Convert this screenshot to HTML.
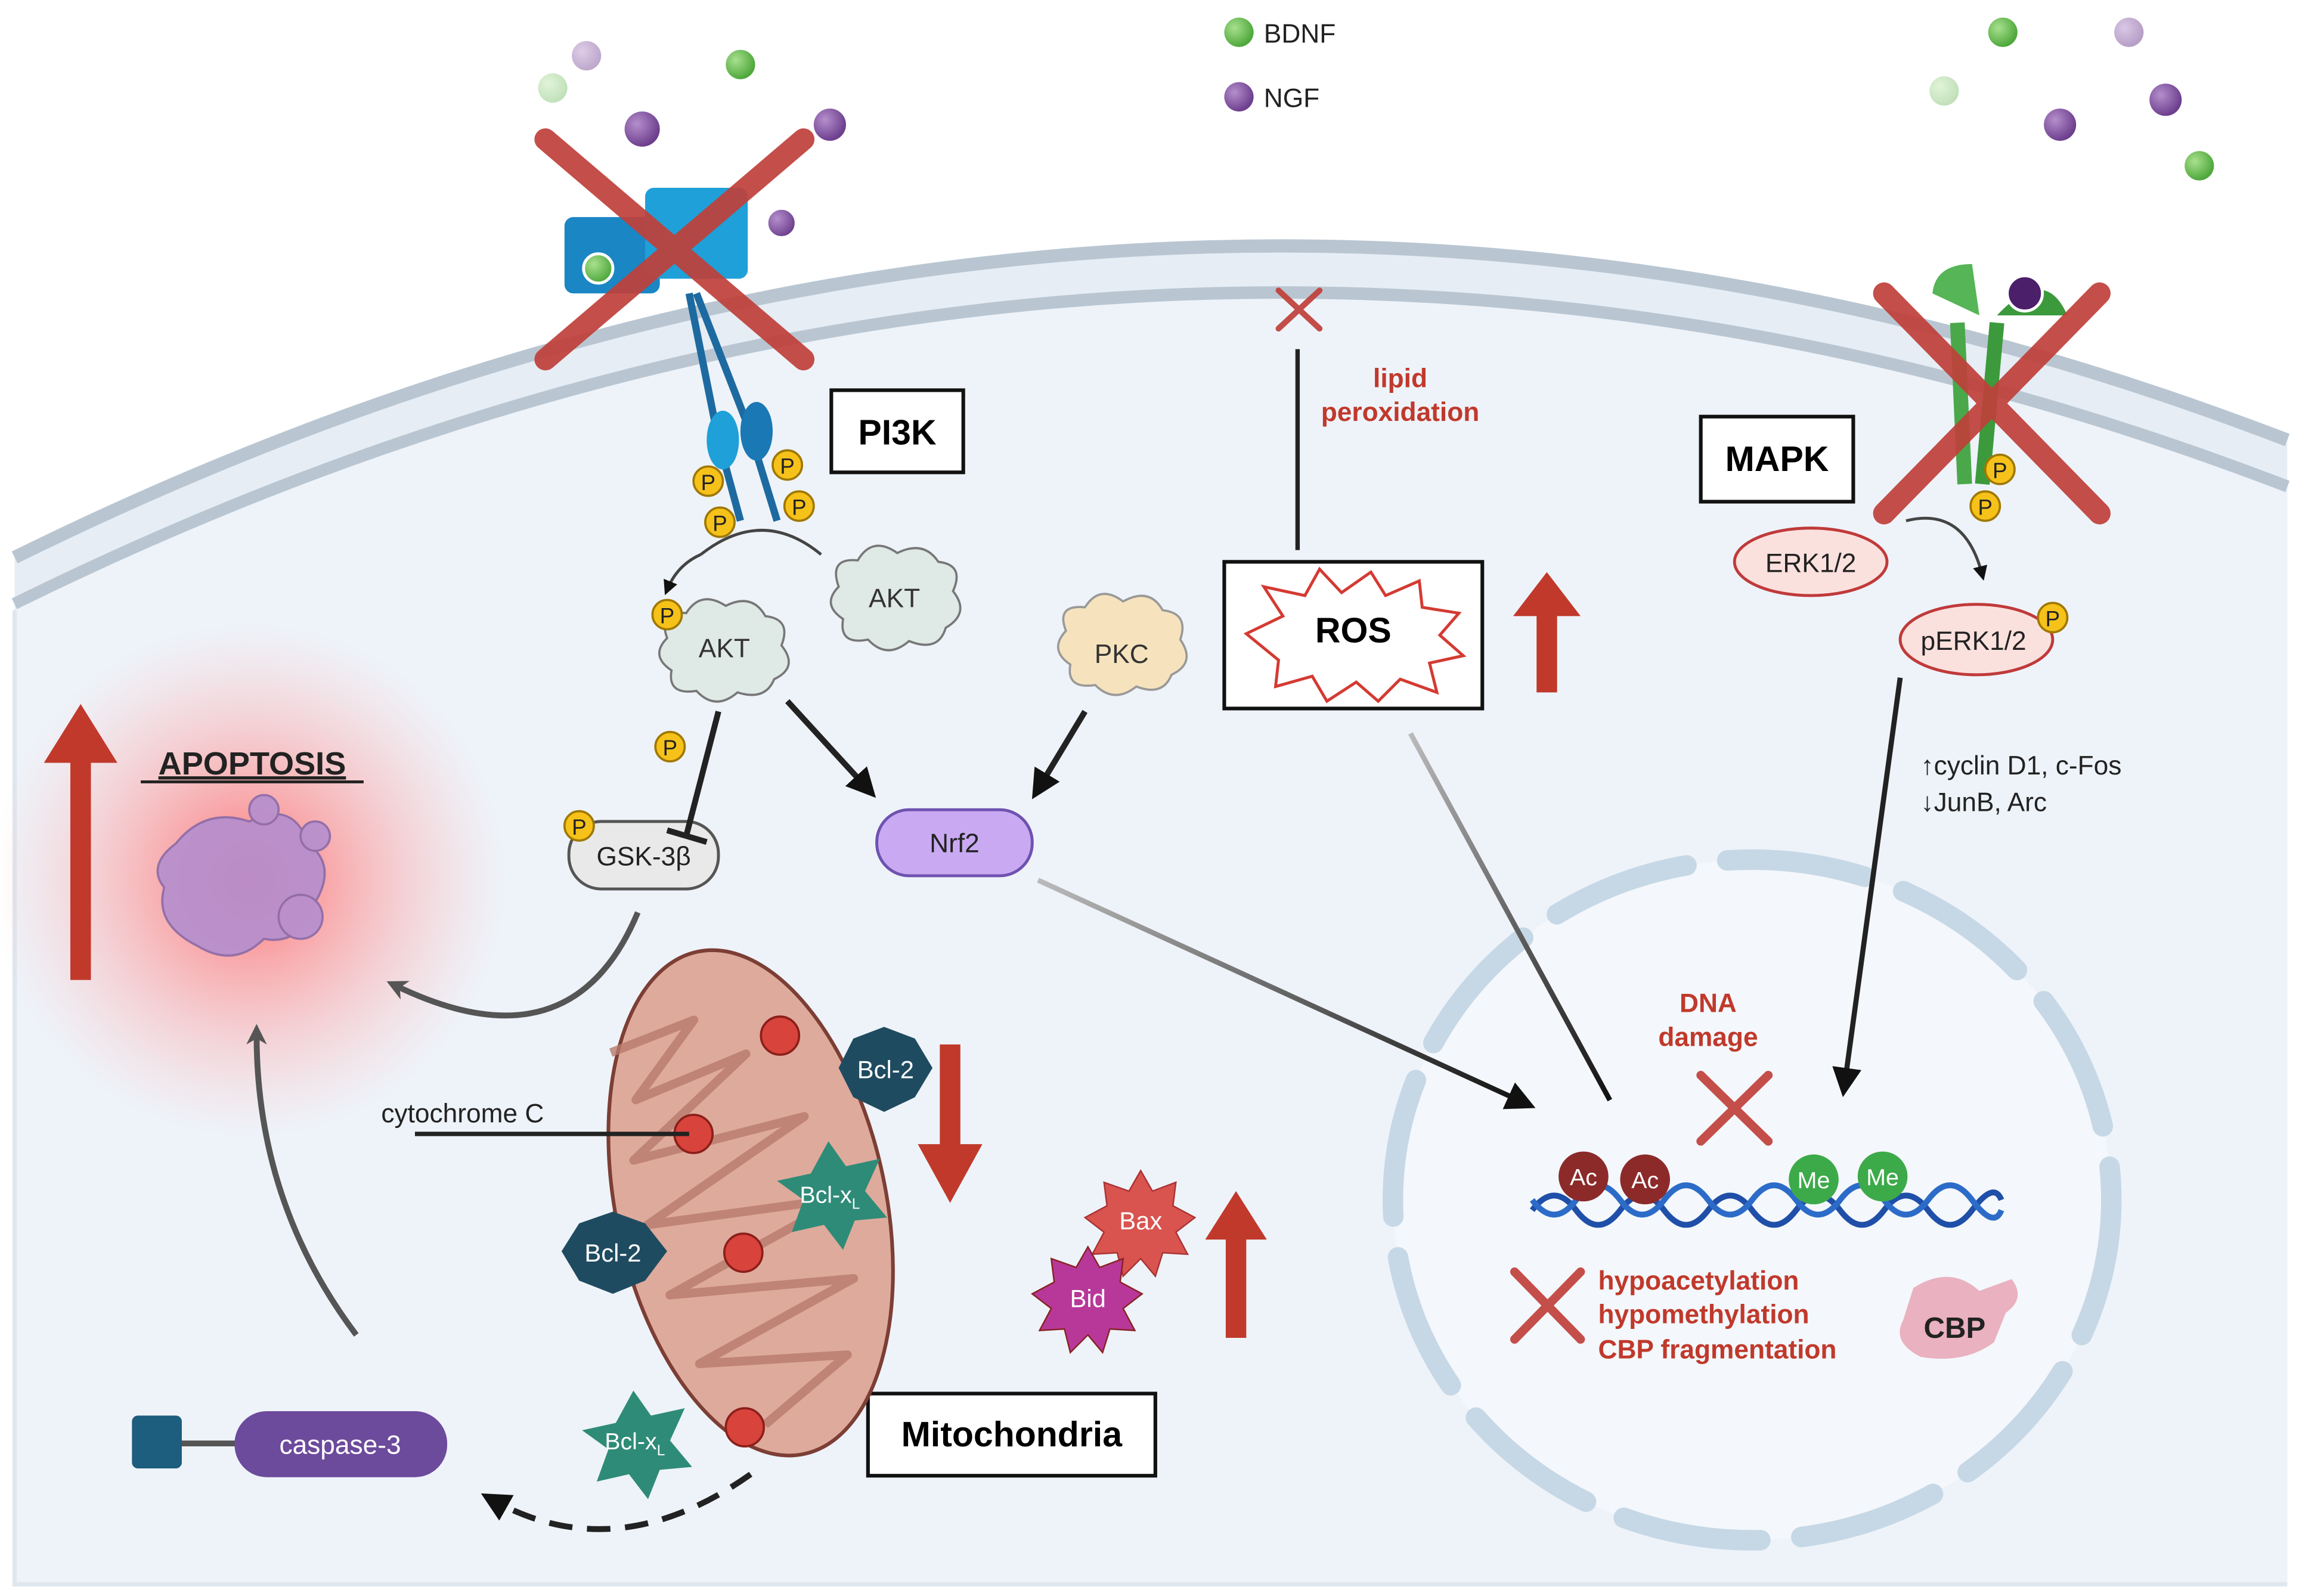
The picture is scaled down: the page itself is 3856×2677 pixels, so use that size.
<!DOCTYPE html>
<html><head><meta charset="utf-8"><style>
html,body{margin:0;padding:0;background:#fff;}
svg{display:block;}
text{font-family:"Liberation Sans",sans-serif;}
</style></head><body>
<svg width="3856" height="2677" viewBox="0 0 1568 1088" preserveAspectRatio="none" xmlns="http://www.w3.org/2000/svg">
<defs>
<radialGradient id="glow" cx="50%" cy="50%" r="50%">
<stop offset="0" stop-color="#ff5a5a" stop-opacity="0.85"/>
<stop offset="0.5" stop-color="#ff8a8a" stop-opacity="0.45"/>
<stop offset="1" stop-color="#ffb0b0" stop-opacity="0"/>
</radialGradient>
<radialGradient id="gG" cx="35%" cy="35%" r="65%"><stop offset="0" stop-color="#a8e08e"/><stop offset="1" stop-color="#4fa83c"/></radialGradient>
<radialGradient id="gP" cx="35%" cy="35%" r="65%"><stop offset="0" stop-color="#b58fcc"/><stop offset="1" stop-color="#6d3f8e"/></radialGradient>
<linearGradient id="lg1" x1="0" y1="0" x2="1" y2="1"><stop offset="0" stop-color="#bbb"/><stop offset="1" stop-color="#111"/></linearGradient>
<marker id="ah" markerWidth="10" markerHeight="10" refX="6" refY="5" orient="auto" markerUnits="userSpaceOnUse"><path d="M0,0 L10,5 L0,10 Z" fill="#111"/></marker>
<marker id="ahg" markerWidth="14" markerHeight="14" refX="7" refY="7" orient="auto" markerUnits="userSpaceOnUse"><path d="M0,0 L14,7 L0,14 L4,7 Z" fill="#555"/></marker>
<marker id="ahb" markerWidth="20" markerHeight="20" refX="12" refY="10" orient="auto" markerUnits="userSpaceOnUse"><path d="M0,0 L20,10 L0,20 Z" fill="#111"/></marker>
</defs>
<rect width="1568" height="1088" fill="#fff"/>
<!-- cell -->
<path d="M10,380 Q780,0 1560,300 L1560,1080 L10,1080 Z" fill="#e6edf4"/>
<path d="M10,380 Q780,0 1560,300" fill="none" stroke="#b9c6d2" stroke-width="9"/>
<path d="M10,412 Q780,32 1560,332" fill="none" stroke="#b9c6d2" stroke-width="9"/>
<path d="M10,416 Q780,36 1560,336 L1560,1080 L10,1080 Z" fill="#eef3f9"/>
<path d="M10,416 L10,1080 L1560,1080" fill="none" stroke="#dfe6ee" stroke-width="3"/>
<!-- nucleus -->
<ellipse cx="1195" cy="818" rx="245" ry="232" fill="#f4f7fb"/>
<ellipse cx="1195" cy="818" rx="245" ry="232" fill="none" stroke="#c6d8e6" stroke-width="14" stroke-linecap="round" stroke-dasharray="95 28"/>
<!-- legend -->
<circle cx="845" cy="22" r="10" fill="url(#gG)"/><text x="862" y="29" font-size="18" fill="#222">BDNF</text>
<circle cx="845" cy="66" r="10" fill="url(#gP)"/><text x="862" y="73" font-size="18" fill="#222">NGF</text>
<!-- ligands -->
<g>
<circle cx="400" cy="38" r="10" fill="url(#gP)" opacity="0.45"/>
<circle cx="377" cy="60" r="10" fill="url(#gG)" opacity="0.35"/>
<circle cx="505" cy="44" r="10" fill="url(#gG)"/>
<circle cx="438" cy="88" r="12" fill="url(#gP)"/>
<circle cx="566" cy="85" r="11" fill="url(#gP)"/>
<circle cx="1366" cy="22" r="10" fill="url(#gG)"/>
<circle cx="1452" cy="22" r="10" fill="url(#gP)" opacity="0.5"/>
<circle cx="1326" cy="62" r="10" fill="url(#gG)" opacity="0.35"/>
<circle cx="1405" cy="85" r="11" fill="url(#gP)"/>
<circle cx="1477" cy="68" r="11" fill="url(#gP)"/>
<circle cx="1500" cy="113" r="10" fill="url(#gG)"/>
</g>
<!-- left receptor -->
<g>
<path d="M470,200 L490,300 L505,355" stroke="#1d6aa0" stroke-width="5" fill="none"/>
<path d="M475,200 L510,290 L530,355" stroke="#1d6aa0" stroke-width="5" fill="none"/>
<rect x="385" y="148" width="65" height="52" rx="6" fill="#1a86c4"/>
<rect x="440" y="128" width="70" height="62" rx="6" fill="#1fa0d8"/>
<ellipse cx="493" cy="300" rx="11" ry="20" fill="#1fa0d8"/>
<ellipse cx="516" cy="294" rx="11" ry="20" fill="#1a78b5"/>
<circle cx="533" cy="152" r="10" fill="url(#gP)" stroke="#fff" stroke-width="2"/>
<circle cx="408" cy="183" r="10" fill="url(#gG)" stroke="#fff" stroke-width="2"/>
</g>
<!-- right receptor -->
<g>
<path d="M1335,220 L1340,330" stroke="#4aa84a" stroke-width="10" fill="none"/>
<path d="M1362,220 L1352,330" stroke="#3c9a3c" stroke-width="10" fill="none"/>
<path d="M1318,200 Q1320,180 1345,180 L1350,215 Z" fill="#56b556"/>
<path d="M1362,215 Q1395,180 1410,215 Z" fill="#3c9a3c"/>
<circle cx="1381" cy="200" r="12" fill="#4b1f6a" stroke="#fff" stroke-width="2"/>
</g>
<!-- red X's -->
<g stroke="#c0403a" stroke-linecap="round" opacity="0.92">
<path d="M372,95 L548,245 M548,95 L372,245" stroke-width="15"/>
<path d="M1285,200 L1432,350 M1432,200 L1285,350" stroke-width="15"/>
<path d="M872,198 L900,224 M900,198 L872,224" stroke-width="4"/>
<path d="M1160,733 L1206,778 M1206,733 L1160,778" stroke-width="6"/>
<path d="M1033,867 L1078,913 M1078,867 L1033,913" stroke-width="6"/>
</g>
<!-- boxes -->
<rect x="567" y="266" width="90" height="56" fill="#fff" stroke="#111" stroke-width="2.5"/>
<text x="612" y="303" font-size="24" font-weight="bold" text-anchor="middle">PI3K</text>
<rect x="1160" y="284" width="104" height="58" fill="#fff" stroke="#111" stroke-width="2.5"/>
<text x="1212" y="321" font-size="24" font-weight="bold" text-anchor="middle">MAPK</text>
<rect x="835" y="383" width="176" height="100" fill="#fff" stroke="#111" stroke-width="2.5"/>
<path d="M850,432 L875,420 L862,400 L890,406 L900,388 L915,404 L935,390 L945,406 L968,396 L970,414 L995,418 L982,433 L998,447 L975,452 L980,472 L955,463 L940,478 L925,465 L905,478 L895,461 L870,468 L872,450 Z" fill="#fff" stroke="#d43a32" stroke-width="2"/>
<text x="923" y="438" font-size="24" font-weight="bold" text-anchor="middle">ROS</text>
<rect x="592" y="950" width="196" height="56" fill="#fff" stroke="#111" stroke-width="2.5"/>
<text x="690" y="986" font-size="24" font-weight="bold" text-anchor="middle">Mitochondria</text>
<!-- lipid peroxidation -->
<line x1="885" y1="238" x2="885" y2="375" stroke="#222" stroke-width="3"/>
<text x="955" y="264" font-size="18" font-weight="bold" fill="#c0392b" text-anchor="middle">lipid</text>
<text x="955" y="287" font-size="18" font-weight="bold" fill="#c0392b" text-anchor="middle">peroxidation</text>
<!-- red arrows -->
<g fill="#c0392b">
<path d="M1048,472 L1062,472 L1062,420 L1078,420 L1055,390 L1032,420 L1048,420 Z"/>
<path d="M48,668 L62,668 L62,520 L80,520 L55,480 L30,520 L48,520 Z"/>
<path d="M641,712 L655,712 L655,780 L670,780 L648,820 L626,780 L641,780 Z"/>
<path d="M836,912 L850,912 L850,845 L864,845 L843,812 L822,845 L836,845 Z"/>
</g>
<!-- AKT etc -->
<path d="M478,378 Q520,345 560,378" fill="none" stroke="#444" stroke-width="2"/>
<path d="M478,378 Q462,385 455,402" fill="none" stroke="#444" stroke-width="2" marker-end="url(#ah)"/>
<path d="M572,400 Q565,380 585,382 Q595,365 612,377 Q630,368 640,383 Q658,385 650,403 Q662,418 645,428 Q640,445 620,437 Q605,450 592,436 Q572,440 575,422 Q560,412 572,400 Z" fill="#dfe9e6" stroke="#777" stroke-width="1.5"/>
<text x="610" y="414" font-size="18" text-anchor="middle" fill="#333">AKT</text>
<path d="M455,435 Q448,415 468,418 Q478,402 495,413 Q513,404 522,420 Q540,422 533,440 Q545,455 528,463 Q522,478 503,472 Q488,485 475,471 Q455,474 458,457 Q443,447 455,435 Z" fill="#dfe9e6" stroke="#777" stroke-width="1.5"/>
<text x="494" y="448" font-size="18" text-anchor="middle" fill="#333">AKT</text>
<path d="M727,430 Q720,412 740,414 Q750,398 766,410 Q784,400 793,416 Q811,418 805,436 Q816,452 799,460 Q793,475 775,468 Q760,480 747,467 Q727,470 730,453 Q715,443 727,430 Z" fill="#f6e3bd" stroke="#999" stroke-width="1.5"/>
<text x="765" y="452" font-size="18" text-anchor="middle" fill="#333">PKC</text>
<rect x="598" y="552" width="106" height="45" rx="22" fill="#c9aaf2" stroke="#6e52b0" stroke-width="2"/>
<text x="651" y="581" font-size="18" text-anchor="middle" fill="#222">Nrf2</text>
<rect x="388" y="560" width="102" height="46" rx="22" fill="#e9e9e9" stroke="#555" stroke-width="2"/>
<text x="439" y="590" font-size="18" text-anchor="middle" fill="#222">GSK-3β</text>
<!-- black arrows -->
<line x1="537" y1="478" x2="592" y2="538" stroke="#222" stroke-width="4" marker-end="url(#ahb)"/>
<line x1="740" y1="485" x2="708" y2="538" stroke="#222" stroke-width="4" marker-end="url(#ahb)"/>
<line x1="490" y1="485" x2="468" y2="570" stroke="#222" stroke-width="4"/>
<line x1="455" y1="566" x2="482" y2="574" stroke="#222" stroke-width="4"/>
<line x1="708" y1="600" x2="1040" y2="752" stroke="url(#lg1)" stroke-width="3.5" marker-end="url(#ahb)"/>
<line x1="962" y1="500" x2="1098" y2="750" stroke="url(#lg1)" stroke-width="3.5"/>
<line x1="1296" y1="462" x2="1258" y2="740" stroke="#222" stroke-width="3.5" marker-end="url(#ahb)"/>
<!-- MAPK side -->
<ellipse cx="1235" cy="383" rx="52" ry="23" fill="#fbe1de" stroke="#c03a3a" stroke-width="2"/>
<text x="1235" y="390" font-size="18" text-anchor="middle" fill="#222">ERK1/2</text>
<path d="M1300,355 Q1340,345 1352,392" fill="none" stroke="#444" stroke-width="2" marker-end="url(#ah)"/>
<ellipse cx="1348" cy="436" rx="52" ry="24" fill="#fbe1de" stroke="#c03a3a" stroke-width="2"/>
<text x="1346" y="443" font-size="18" text-anchor="middle" fill="#222">pERK1/2</text>
<text x="1310" y="528" font-size="18" fill="#222">↑cyclin D1, c-Fos</text>
<text x="1310" y="553" font-size="18" fill="#222">↓JunB, Arc</text>
<!-- P circles -->
<g font-size="15" text-anchor="middle" fill="#222">
<g fill="#f6c21a" stroke="#a07800" stroke-width="1.5">
<circle cx="483" cy="328" r="10"/><circle cx="537" cy="317" r="10"/><circle cx="491" cy="356" r="10"/><circle cx="545" cy="345" r="10"/><circle cx="455" cy="419" r="10"/><circle cx="457" cy="509" r="10"/><circle cx="395" cy="563" r="10"/><circle cx="1364" cy="320" r="10"/><circle cx="1354" cy="345" r="10"/><circle cx="1400" cy="421" r="10"/>
</g>
<text x="483" y="334">P</text><text x="537" y="323">P</text><text x="491" y="362">P</text><text x="545" y="351">P</text><text x="455" y="425">P</text><text x="457" y="515">P</text><text x="395" y="569">P</text><text x="1364" y="326">P</text><text x="1354" y="351">P</text><text x="1400" y="427">P</text>
</g>
<!-- apoptosis -->
<circle cx="170" cy="600" r="175" fill="url(#glow)"/>
<path d="M55,670 L55,485" stroke="none"/>
<g fill="#c0392b"><path d="M48,668 L62,668 L62,520 L80,520 L55,480 L30,520 L48,520 Z"/></g>
<text x="172" y="528" font-size="22" font-weight="bold" text-anchor="middle" fill="#222" text-decoration="underline">APOPTOSIS</text>
<line x1="96" y1="533" x2="248" y2="533" stroke="#222" stroke-width="2"/>
<g fill="#b58fcf" stroke="#8a6aa8" stroke-width="1.5" opacity="0.9">
<path d="M120,575 Q140,550 170,560 Q200,545 210,575 Q230,590 215,615 Q205,645 180,640 Q160,660 135,645 Q105,630 112,605 Q100,590 120,575 Z"/>
<circle cx="205" cy="625" r="15"/><circle cx="180" cy="552" r="10"/><circle cx="215" cy="570" r="10"/>
</g>
<!-- gray curved arrows -->
<path d="M435,622 Q390,730 270,672" fill="none" stroke="#555" stroke-width="4" marker-end="url(#ahg)"/>
<path d="M243,910 Q175,820 175,705" fill="none" stroke="#555" stroke-width="4" marker-end="url(#ahg)"/>
<path d="M512,1005 Q420,1070 335,1022" fill="none" stroke="#222" stroke-width="4" stroke-dasharray="16 10" marker-end="url(#ahb)"/>
<!-- mitochondrion -->
<g transform="rotate(-12 512 820)">
<ellipse cx="512" cy="820" rx="92" ry="175" fill="#deaa9c" stroke="#7c3e35" stroke-width="2.5"/>
<path d="M440,700 L500,690 L450,735 L530,720 L440,775 L560,770 L440,820 L575,830 L445,870 L570,885 L455,920 L555,935 L490,970" fill="none" stroke="#b77a6c" stroke-width="6" stroke-linejoin="round" opacity="0.8"/>
</g>
<g fill="#d8433b" stroke="#8b1f1a" stroke-width="1.5">
<circle cx="532" cy="706" r="13"/><circle cx="473" cy="773" r="13"/><circle cx="507" cy="854" r="13"/><circle cx="508" cy="973" r="13"/>
</g>
<text x="260" y="765" font-size="18" fill="#222">cytochrome C</text>
<line x1="283" y1="773" x2="470" y2="773" stroke="#222" stroke-width="3"/>
<!-- Bcl -->
<path d="M582,708 L603,700 L624,708 L636,728 L624,748 L603,758 L582,748 L572,728 Z" fill="#1f4b60"/>
<text x="604" y="735" font-size="17" text-anchor="middle" fill="#fff">Bcl-2</text>
<path d="M395,834 L418,826 L440,834 L455,853 L440,873 L418,882 L395,873 L383,853 Z" fill="#1f4b60"/>
<text x="418" y="860" font-size="17" text-anchor="middle" fill="#fff">Bcl-2</text>
<path d="M565,778 L577,795 L600,790 L590,812 L605,830 L583,832 L575,852 L562,835 L540,840 L548,818 L530,805 L553,800 Z" fill="#2e8b77"/>
<text x="566" y="820" font-size="16" text-anchor="middle" fill="#fff">Bcl-x<tspan font-size="10" dy="4">L</tspan></text>
<path d="M432,948 L444,965 L467,960 L457,982 L472,1000 L450,1002 L442,1022 L429,1005 L407,1010 L415,988 L397,975 L420,970 Z" fill="#2e8b77"/>
<text x="433" y="988" font-size="16" text-anchor="middle" fill="#fff">Bcl-x<tspan font-size="10" dy="4">L</tspan></text>
<!-- Bax Bid -->
<path d="M778,798 L786,812 L802,806 L800,822 L815,830 L802,840 L810,855 L793,854 L788,870 L778,858 L766,870 L762,854 L745,855 L753,840 L740,830 L755,822 L753,806 L770,812 Z" fill="#d9534f" stroke="#a33" stroke-width="1"/>
<text x="778" y="838" font-size="17" text-anchor="middle" fill="#fff">Bax</text>
<path d="M742,850 L750,864 L766,858 L764,874 L779,882 L766,892 L774,907 L757,906 L752,922 L742,910 L730,922 L726,906 L709,907 L717,892 L704,882 L719,874 L717,858 L734,864 Z" fill="#b8389a" stroke="#822" stroke-width="1"/>
<text x="742" y="891" font-size="17" text-anchor="middle" fill="#fff">Bid</text>
<!-- caspase -->
<line x1="120" y1="984" x2="165" y2="984" stroke="#555" stroke-width="4"/>
<rect x="90" y="965" width="34" height="36" rx="4" fill="#1d5d7d"/>
<rect x="160" y="962" width="145" height="45" rx="22" fill="#6c4a9c"/>
<text x="232" y="991" font-size="18" text-anchor="middle" fill="#fff">caspase-3</text>
<!-- nucleus contents -->
<text x="1165" y="690" font-size="18" font-weight="bold" fill="#c0392b" text-anchor="middle">DNA</text>
<text x="1165" y="713" font-size="18" font-weight="bold" fill="#c0392b" text-anchor="middle">damage</text>
<path d="M1045,825 Q1060,805 1075,825 T1105,825 T1135,825 T1165,825 T1195,825 T1225,825 T1255,825 T1285,825 T1315,825 T1345,825 T1365,818" fill="none" stroke="#1f4fa8" stroke-width="4"/>
<path d="M1045,818 Q1060,838 1075,818 T1105,818 T1135,818 T1165,818 T1195,818 T1225,818 T1255,818 T1285,818 T1315,818 T1345,818 T1365,825" fill="none" stroke="#2c6cc8" stroke-width="4"/>
<g font-size="16" text-anchor="middle" fill="#fff">
<circle cx="1080" cy="802" r="17" fill="#8c2a2a"/><text x="1080" y="808">Ac</text>
<circle cx="1122" cy="804" r="17" fill="#8c2a2a"/><text x="1122" y="810">Ac</text>
<circle cx="1237" cy="804" r="17" fill="#3daa4a"/><text x="1237" y="810">Me</text>
<circle cx="1284" cy="802" r="17" fill="#3daa4a"/><text x="1284" y="808">Me</text>
</g>
<g font-size="18" font-weight="bold" fill="#c0392b">
<text x="1090" y="879">hypoacetylation</text>
<text x="1090" y="902">hypomethylation</text>
<text x="1090" y="926">CBP fragmentation</text>
</g>
<path d="M1305,878 Q1330,862 1350,880 L1372,872 Q1382,885 1368,895 L1360,915 Q1340,930 1310,925 Q1290,915 1298,900 Z" fill="#e8a5b5" opacity="0.85"/>
<text x="1312" y="912" font-size="20" font-weight="bold" fill="#222">CBP</text>
</svg>
</body></html>
